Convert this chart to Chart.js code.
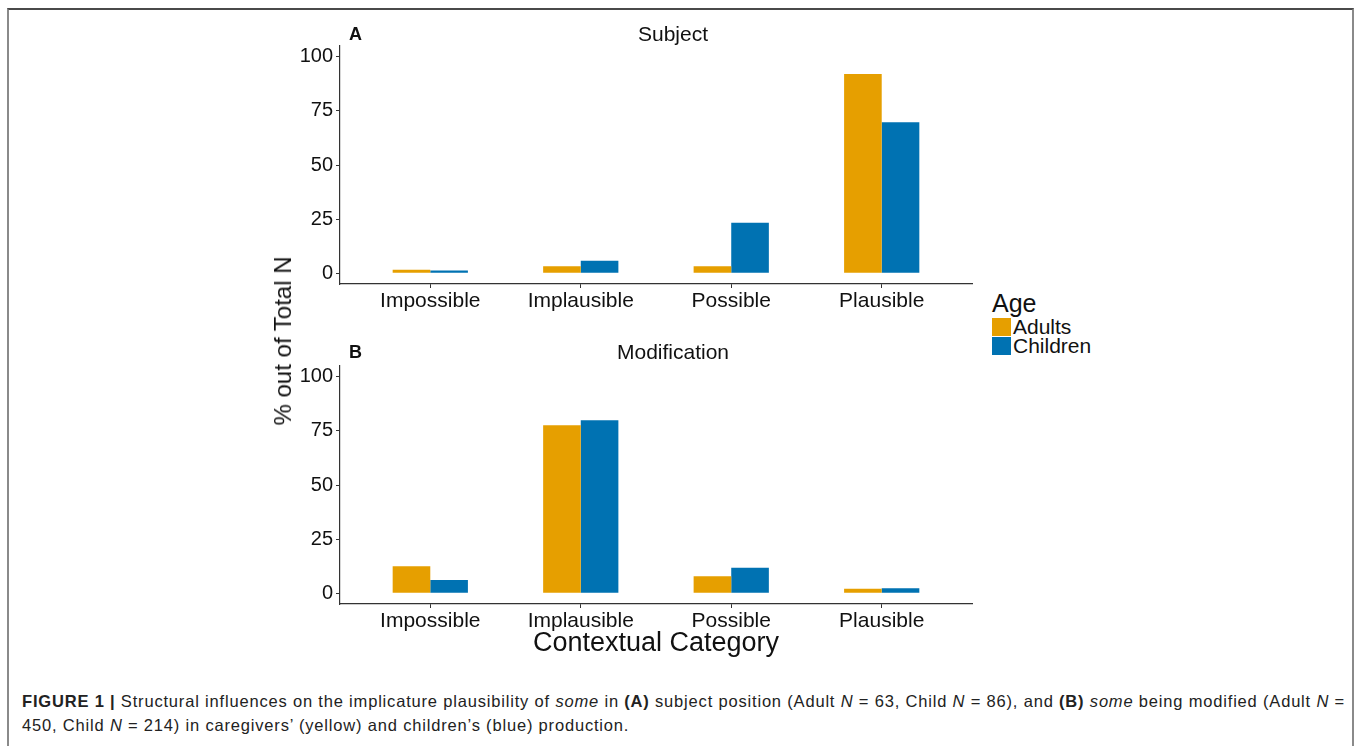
<!DOCTYPE html>
<html>
<head>
<meta charset="utf-8">
<script src="https://cdn.jsdelivr.net/npm/chart.js@4.4.1/dist/chart.umd.min.js"></script>
<style>
  html, body { margin: 0; padding: 0; background: #fff; }
  body { width: 1360px; height: 746px; overflow: hidden; position: relative;
         font-family: "Liberation Sans", Arial, Helvetica, sans-serif; color: #111; }
  #frame { position: absolute; left: 7px; top: 8px; width: 1343px; height: 800px;
           border-top: 2px solid #4a4a4a; border-left: 2px solid #8a8a8a; border-right: 2px solid #8a8a8a; }
  canvas { position: absolute; }
  .txt { position: absolute; white-space: nowrap; line-height: 1; }
  .letter { font-weight: bold; font-size: 18px; }
  .ptitle { font-size: 21px; transform: translateX(-50%); }
  #ytitle { font-size: 24px; left: 283px; top: 341px; transform: translate(-50%, -50%) rotate(-90deg); }
  #xtitle { font-size: 27px; left: 656px; top: 629px; transform: translateX(-50%); }
  #legend { position: absolute; left: 992px; top: 290px; }
  #legend .head { font-size: 25px; line-height: 27px; }
  #legend .row { display: flex; align-items: center; height: 19px; font-size: 21px; }
  #legend .sw { width: 19px; height: 18px; margin-right: 2px; }
  #caption { position: absolute; left: 22px; top: 689px; font-size: 16.5px; line-height: 24px; color: #222; }
  #caption .line { display: block; white-space: nowrap; }
</style>
</head>
<body>
<div id="frame"></div>
<canvas id="panelA" width="720" height="300" style="left:260px; top:20px;"></canvas>
<canvas id="panelB" width="720" height="300" style="left:260px; top:340px;"></canvas>

<div class="txt letter" style="left:349px; top:25px;">A</div>
<div class="txt ptitle" style="left:673px; top:23px;">Subject</div>
<div class="txt letter" style="left:349px; top:343px;">B</div>
<div class="txt ptitle" style="left:673px; top:341px;">Modification</div>
<div class="txt" id="ytitle">% out of Total N</div>
<div class="txt" id="xtitle">Contextual Category</div>

<div id="legend">
  <div class="head">Age</div>
  <div class="row"><div class="sw" id="swA"></div><span id="labA"></span></div>
  <div class="row"><div class="sw" id="swC"></div><span id="labC"></span></div>
</div>

<div id="caption"><span class="line" id="capLine1"><b>FIGURE 1 |</b> Structural influences on the implicature plausibility of <i>some</i> in <b>(A)</b> subject position (Adult <i>N</i> = 63, Child <i>N</i> = 86), and <b>(B)</b> <i>some</i> being modified (Adult <i>N</i> =</span><span class="line" id="capLine2">450, Child <i>N</i> = 214) in caregivers’ (yellow) and children’s (blue) production.</span></div>

<script>
// Contextual categories along the x axis
const categories = ['Impossible', 'Implausible', 'Possible', 'Plausible'];
const seriesNames = ['Adults', 'Children'];

// Percent of total N, subject position
const subjectAdults = [1.6, 3.2, 3.2, 92.1];
const subjectChildren = [1.2, 5.8, 23.3, 69.8];

// Percent of total N, "some" being modified
const modifiedAdults = [12.4, 77.6, 7.8, 2.0];
const modifiedChildren = [6.1, 79.9, 11.7, 2.3];

const yTicks = [0, 25, 50, 75, 100];

const COLORS = { Adults: '#E69F00', Children: '#0072B2' };
const AXIS = '#333333';

document.getElementById('swA').style.background = COLORS.Adults;
document.getElementById('swC').style.background = COLORS.Children;
document.getElementById('labA').textContent = seriesNames[0];
document.getElementById('labC').textContent = seriesNames[1];

// Spread the first caption line across the full caption width
(function fitCaption() {
  const line = document.getElementById('capLine1');
  const target = 1323;
  const chars = line.textContent.length;
  const w = line.getBoundingClientRect().width;
  const inline = document.createElement('span');
  inline.innerHTML = line.innerHTML;
  line.innerHTML = '';
  line.appendChild(inline);
  const natural = inline.getBoundingClientRect().width;
  const spacing = (target - natural) / chars;
  document.getElementById('caption').style.letterSpacing = spacing.toFixed(3) + 'px';
})();

function toPoints(values) {
  return values.map((v, i) => ({ x: i + 1, y: v }));
}

function makePanel(id, adults, children) {
  return new Chart(document.getElementById(id), {
    type: 'bar',
    data: {
      datasets: [
        { label: seriesNames[0], data: toPoints(adults), backgroundColor: COLORS.Adults,
          categoryPercentage: 0.5, barPercentage: 1.0, borderWidth: 0 },
        { label: seriesNames[1], data: toPoints(children), backgroundColor: COLORS.Children,
          categoryPercentage: 0.5, barPercentage: 1.0, borderWidth: 0 }
      ]
    },
    options: {
      responsive: false,
      animation: false,
      devicePixelRatio: 1,
      layout: { padding: { top: 26, right: 8, left: 0, bottom: 0 } },
      plugins: { legend: { display: false }, tooltip: { enabled: false } },
      scales: {
        x: {
          type: 'linear',
          min: 0.4,
          max: 4.6,
          offset: false,
          afterBuildTicks: s => { s.ticks = categories.map((c, i) => ({ value: i + 1 })); },
          afterFit: s => { s.height = 36; },
          border: { display: true, color: AXIS, width: 1.2 },
          grid: { offset: false, drawOnChartArea: false, drawTicks: true, tickLength: 4, color: AXIS, tickWidth: 1 },
          ticks: {
            autoSkip: false, maxRotation: 0, padding: 1, color: '#111',
            font: { family: '"Liberation Sans", Arial, sans-serif', size: 21 },
            callback: v => categories[Math.round(v) - 1]
          }
        },
        y: {
          type: 'linear',
          min: -5,
          max: 105,
          afterBuildTicks: s => { s.ticks = yTicks.map(v => ({ value: v })); },
          afterFit: s => { s.width = 80; },
          border: { display: true, color: AXIS, width: 1.2 },
          grid: { drawOnChartArea: false, drawTicks: true, tickLength: 4, color: AXIS, tickWidth: 1 },
          ticks: {
            padding: 3, color: '#111',
            font: { family: '"Liberation Sans", Arial, sans-serif', size: 20 }
          }
        }
      }
    }
  });
}

makePanel('panelA', subjectAdults, subjectChildren);
makePanel('panelB', modifiedAdults, modifiedChildren);
</script>
</body>
</html>
